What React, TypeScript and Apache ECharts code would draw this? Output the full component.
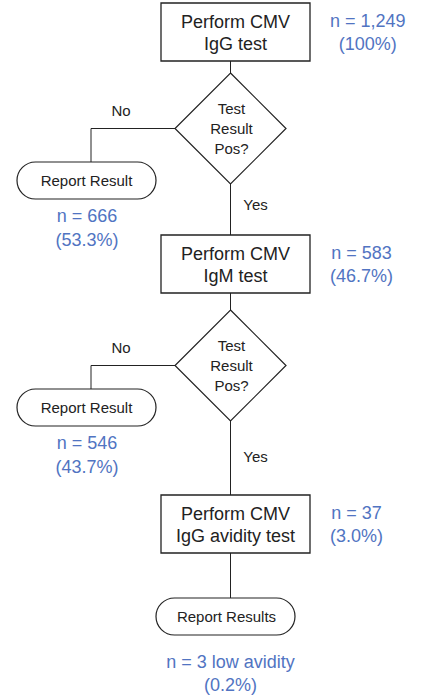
import React, { useEffect, useRef } from "react";
import * as echarts from "echarts";

const processSteps = ["Perform CMV\nIgG test", "Perform CMV\nIgM test", "Perform CMV\nIgG avidity test"];
const stepCounts = ["n = 1,249", "n = 583", "n = 37"];
const stepPercents = ["(100%)", "(46.7%)", "(3.0%)"];
const decisionText = "Test\nResult\nPos?";
const branchNo = "No";
const branchYes = "Yes";
const reportLabels = ["Report Result", "Report Result", "Report Results"];
const reportCounts = ["n = 666", "n = 546", "n = 3 low avidity"];
const reportPercents = ["(53.3%)", "(43.7%)", "(0.2%)"];

const FONT = "'Liberation Sans', Arial, Helvetica, sans-serif";
const BLUE = "#5174c2";
const INK = "#222222";

function measure(text: string, size: number): number {
  const c = document.createElement("canvas");
  const ctx = c.getContext("2d");
  if (!ctx) return text.length * size * 0.55;
  ctx.font = `${size}px ${FONT}`;
  return ctx.measureText(text).width;
}

export default function App() {
  const ref = useRef<HTMLDivElement>(null);
  useEffect(() => {
    if (!ref.current) return;
    const chart = echarts.init(ref.current, null, { renderer: "svg" });
    const els: any[] = [];
    const cx = 230.5;
    const boxL = 161, boxR = 310, boxH = 58;
    const boxTops = [3, 235, 495];
    const diaTops = [73, 310];
    const yesOffsets = [20, 35];
    const diaH = 111, diaW = 111;
    const stadL = 17, stadR = 156, stadTops = [162, 389];
    const stadH = 37;

    const line = (pts: number[][]) =>
      els.push({ type: "polyline", shape: { points: pts }, style: { stroke: INK, lineWidth: 1, fill: null }, z: 1 });
    const text = (x: number, y: number, t: string, size: number, color: string, lh?: number) =>
      els.push({
        type: "text", x, y, z: 3,
        style: { text: t, fill: color, font: `${size}px ${FONT}`, align: "center", verticalAlign: "middle", lineHeight: lh || size * 1.2 },
      });

    processSteps.forEach((s, i) => {
      const top = boxTops[i];
      els.push({ type: "rect", shape: { x: boxL, y: top, width: boxR - boxL, height: boxH }, style: { fill: "#fff", stroke: INK, lineWidth: 1.3 }, z: 2 });
      text((boxL + boxR) / 2, top + boxH / 2 + 1, s, 18, INK, 22);
      const w = Math.max(measure(stepCounts[i], 18), measure(stepPercents[i], 18));
      const lx = 330 + w / 2;
      text(lx, top + 18, stepCounts[i], 18, BLUE);
      text(lx, top + 41, stepPercents[i], 18, BLUE);
    });

    diaTops.forEach((t, i) => {
      const mid = t + diaH / 2;
      line([[cx, boxTops[i] + boxH], [cx, t]]);
      line([[cx, t + diaH], [cx, boxTops[i + 1]]]);
      els.push({
        type: "polygon",
        shape: { points: [[cx, t], [cx + diaW / 2, mid], [cx, t + diaH], [cx - diaW / 2, mid]] },
        style: { fill: "#fff", stroke: INK, lineWidth: 1.2 }, z: 2,
      });
      text(cx + 1, mid, decisionText, 15, INK, 20);
      const branchX = 91;
      line([[cx - diaW / 2, mid], [branchX, mid], [branchX, stadTops[i]]]);
      text(121, mid - 18, branchNo, 15, INK);
      text(cx + 25, t + diaH + yesOffsets[i], branchYes, 15, INK);
      const st = stadTops[i];
      els.push({ type: "rect", shape: { x: stadL, y: st, width: stadR - stadL, height: stadH, r: stadH / 2 }, style: { fill: "#fff", stroke: INK, lineWidth: 1.2 }, z: 2 });
      text((stadL + stadR) / 2, st + stadH / 2, reportLabels[i], 15, INK);
      text((stadL + stadR) / 2 + 0.5, st + 54, reportCounts[i], 18, BLUE);
      text((stadL + stadR) / 2 + 0.5, st + 78, reportPercents[i], 18, BLUE);
    });

    const fTop = 598, fL = 156, fR = 295;
    line([[cx, boxTops[2] + boxH], [cx, fTop]]);
    els.push({ type: "rect", shape: { x: fL, y: fTop, width: fR - fL, height: stadH, r: stadH / 2 }, style: { fill: "#fff", stroke: INK, lineWidth: 1.2 }, z: 2 });
    text((fL + fR) / 2 + 1, fTop + stadH / 2, reportLabels[2], 15, INK);
    text(cx, 662, reportCounts[2], 18, BLUE);
    text(cx, 685, reportPercents[2], 18, BLUE);

    chart.setOption({ animation: false, backgroundColor: "#ffffff", graphic: { elements: els } });
    return () => chart.dispose();
  }, []);
  return <div ref={ref} style={{ position: "fixed", left: 0, top: 0, width: 424, height: 696 }} />;
}
